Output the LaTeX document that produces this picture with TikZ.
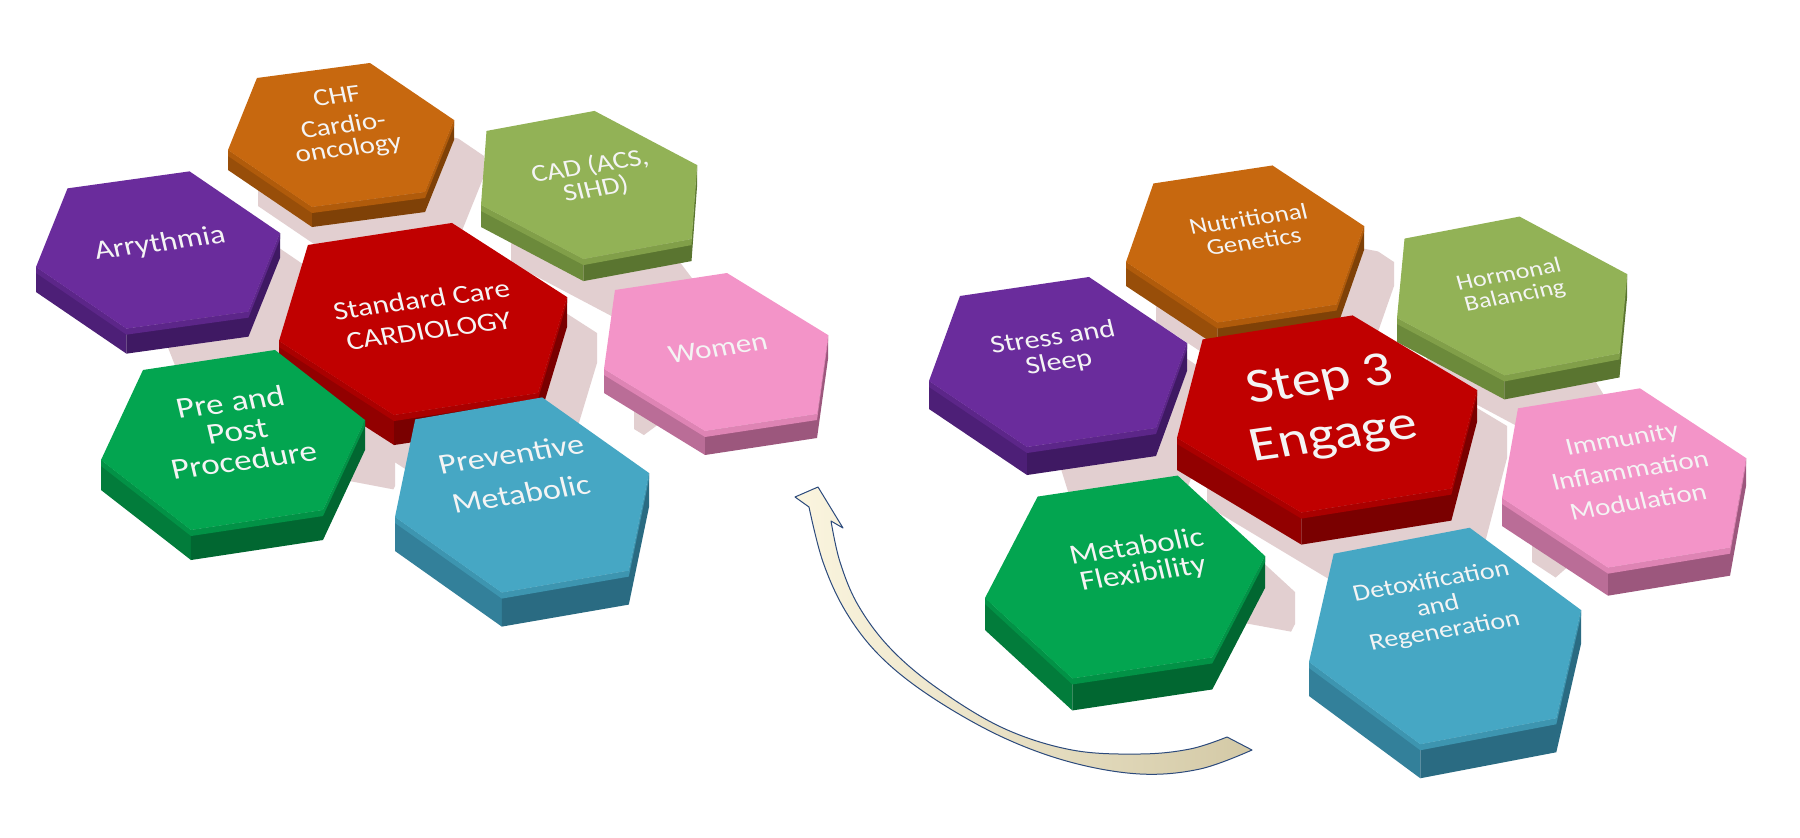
\documentclass[tikz,border=0pt]{standalone}
\usepackage{fontspec}
\setmainfont{Carlito}
\usetikzlibrary{calc}
\definecolor{purT}{HTML}{6A2C9C}\definecolor{purB}{HTML}{5C2689}\definecolor{purS}{HTML}{4D1F77}\definecolor{purD}{HTML}{3F1963}
\definecolor{oraT}{HTML}{C7680F}\definecolor{oraB}{HTML}{B05B0B}\definecolor{oraS}{HTML}{984E09}\definecolor{oraD}{HTML}{7F4107}
\definecolor{oliT}{HTML}{92B256}\definecolor{oliB}{HTML}{819F49}\definecolor{oliS}{HTML}{6C8A3B}\definecolor{oliD}{HTML}{5A7530}
\definecolor{redT}{HTML}{C00000}\definecolor{redB}{HTML}{AA0000}\definecolor{redS}{HTML}{920000}\definecolor{redD}{HTML}{7A0000}
\definecolor{pnkT}{HTML}{F394C8}\definecolor{pnkB}{HTML}{DE84B4}\definecolor{pnkS}{HTML}{BA6D97}\definecolor{pnkD}{HTML}{9C577D}
\definecolor{grnT}{HTML}{03A550}\definecolor{grnB}{HTML}{029246}\definecolor{grnS}{HTML}{027C3B}\definecolor{grnD}{HTML}{016731}
\definecolor{bluT}{HTML}{46A7C4}\definecolor{bluB}{HTML}{3D95B0}\definecolor{bluS}{HTML}{33809A}\definecolor{bluD}{HTML}{2A6B82}
\definecolor{shd}{RGB}{226,207,208}
\definecolor{txtc}{HTML}{F4F4F4}
\definecolor{arrL}{HTML}{FBF5DF}\definecolor{arrR}{HTML}{D3C9A6}\definecolor{arrE}{HTML}{2C4A7C}
\newcommand\hexdef[4]{%
 \coordinate (#1c) at (#2);
 \coordinate (#1v0) at ($(#2)+(#3)$);
 \coordinate (#1v1) at ($(#2)+0.5*(#3)+0.866*(#4)$);
 \coordinate (#1v2) at ($(#2)-0.5*(#3)+0.866*(#4)$);
 \coordinate (#1v3) at ($(#2)-1*(#3)$);
 \coordinate (#1v4) at ($(#2)-0.5*(#3)-0.866*(#4)$);
 \coordinate (#1v5) at ($(#2)+0.5*(#3)-0.866*(#4)$);}
\newcommand\hexshadow[3]{%
 \fill[shd] ($(#1v0)+(#3)$) -- ($(#1v1)+(#3)$) -- ($(#1v2)+(#3)$) -- ($(#1v3)+(#3)$) -- ($(#1v3)+(#3)+(0,#2)$) -- ($(#1v4)+(#3)+(0,#2)$) -- ($(#1v5)+(#3)+(0,#2)$) -- ($(#1v0)+(#3)+(0,#2)$) -- cycle;}
\newcommand\hexdraw[3]{%
 \fill[#3S] (#1v3) -- ($(#1v3)+(0,#2)$) -- ($(#1v4)+(0,#2)$) -- (#1v4) -- cycle;
 \fill[#3D] (#1v4) -- ($(#1v4)+(0,#2)$) -- ($(#1v5)+(0,#2)$) -- ($(#1v0)+(0,#2)$) -- (#1v0) -- (#1v5) -- cycle;
 \fill[#3B] (#1v3) -- (#1v4) -- (#1v5) -- (#1v0) -- ($(#1v0)+(0,6)$) -- ($(#1v5)+(0,6)$) -- ($(#1v4)+(0,6)$) -- ($(#1v3)+(0,6)$) -- cycle;
 \fill[#3T] (#1v0) -- (#1v1) -- (#1v2) -- (#1v3) -- (#1v4) -- (#1v5) -- cycle;}
\newcommand\htext[6]{%
 \node[rotate=#5, txt, font=\fontsize{#3}{#4}\selectfont] (#1) at (#2) {#6};}
\tikzset{
 txt/.style={text=txtc, align=center, inner sep=0pt, xslant=-0.1, yscale=0.85},
 arrowband/.style={draw=arrE, line width=1pt, line join=round, left color=arrL, right color=arrR}
}
\begin{document}
\begin{tikzpicture}[x=1pt,y=-1pt]
\useasboundingbox (0,0) rectangle (1800,838);
\fill[white] (0,0) rectangle (1800,838);
% ---- geometry: left group
\hexdef{arr}{158,250}{122,-17}{-34,-81}
\hexdef{chf}{341,135}{113,-15}{-31.8,-74.5}
\hexdef{cad}{589,185}{108,-20}{-56,-74}
\hexdef{red}{423,319}{144,-22}{-49.7,-98.2}
\hexdef{wom}{716,352}{112,-17}{-52,-81.4}
\hexdef{pre}{233,440}{132,-20}{-27.7,-92.4}
\hexdef{prv}{522,495}{127,-22}{-50,-100}
% ---- geometry: right group
\hexdef{str}{1058,362}{129,-19}{-38.7,-87.2}
\hexdef{nut}{1245,244}{119,-18}{-37,-80.3}
\hexdef{hor}{1512,296}{115,-22}{-57.7,-79}
\hexdef{stp}{1327,414}{150,-24}{-57,-100}
\hexdef{imm}{1624,478}{122,-20}{-52,-92}
\hexdef{met}{1125,577}{140,-21}{-20,-105}
\hexdef{det}{1445,636}{136,-26}{-50,-110}
% ---- shadows, seen only in the gaps of each cluster
\begin{scope}
\clip ($(redc)!1.12!(arrc)$) -- ($(redc)!1.12!(chfc)$) -- ($(redc)!1.12!(cadc)$) -- ($(redc)!1.12!(womc)$) -- ($(redc)!1.12!(prvc)$) -- ($(redc)!1.12!(prec)$) -- cycle;
\hexshadow{arr}{25}{30,36}
\hexshadow{chf}{20}{30,36}
\hexshadow{cad}{22}{30,36}
\hexshadow{red}{30}{30,36}
\hexshadow{pre}{30}{30,36}
\hexshadow{wom}{24}{30,36}
\end{scope}
\begin{scope}
\clip ($(stpc)!1.12!(strc)$) -- ($(stpc)!1.12!(nutc)$) -- ($(stpc)!1.12!(horc)$) -- ($(stpc)!1.12!(immc)$) -- ($(stpc)!1.12!(detc)$) -- ($(stpc)!1.12!(metc)$) -- cycle;
\hexshadow{str}{28}{30,36}
\hexshadow{nut}{24}{30,36}
\hexshadow{hor}{24}{30,36}
\hexshadow{stp}{32}{30,36}
\hexshadow{met}{32}{30,36}
\hexshadow{imm}{28}{30,36}
\end{scope}
% ---- blocks, back to front
\hexdraw{chf}{20}{ora}
\hexdraw{cad}{22}{oli}
\hexdraw{arr}{25}{pur}
\hexdraw{red}{30}{red}
\hexdraw{wom}{24}{pnk}
\hexdraw{pre}{30}{grn}
\hexdraw{prv}{34}{blu}
\hexdraw{nut}{24}{ora}
\hexdraw{hor}{24}{oli}
\hexdraw{str}{28}{pur}
\hexdraw{stp}{32}{red}
\hexdraw{imm}{28}{pnk}
\hexdraw{met}{32}{grn}
\hexdraw{det}{34}{blu}
% ---- labels
\htext{tarr}{160,244}{32}{36}{7.5}{Arrythmia}
\htext{tchf}{343,124}{29}{27}{7}{CHF\\[8pt]Cardio-\\oncology}
\htext{tcad}{593,178}{29}{28}{9}{CAD (ACS,\\SIHD)}
\htext{tred}{425,315}{31}{37}{7.5}{Standard Care\\CARDIOLOGY}
\htext{twom}{718,348}{31}{36}{8}{Women}
\htext{tpre}{237,431}{35}{35}{7.5}{Pre and\\Post\\Procedure}
\htext{tprv}{516,474}{34}{48}{8.5}{Preventive\\Metabolic}
\htext{tstr}{1056,351}{30}{30}{8}{Stress and\\Sleep}
\htext{tnut}{1251,230}{27}{27}{8}{Nutritional\\Genetics}
\htext{thor}{1512,286}{26}{26}{10}{Hormonal\\Balancing}
\htext{tstp}{1327,410}{58}{67}{8}{Step 3\\Engage}
\htext{timm}{1630,470}{29}{38}{9}{Immunity\\Inflammation\\Modulation}
\htext{tmet}{1140,561}{33}{32}{8}{Metabolic\\Flexibility}
\htext{tdet}{1438,607}{28}{30}{9.5}{Detoxification\\and\\Regeneration}
% ---- curved arrow
\coordinate (atip) at (818,487);
\coordinate (abl) at (795,497);
\coordinate (abr) at (843,528);
\path[arrowband] (abl) -- (atip) -- (abr) --
 plot[smooth, tension=0.6] coordinates {(831,521) (840,562) (858,605) (890,648) (937,688) (1003,728) (1072,750) (1140,754) (1190,749) (1227,737)}
 -- plot[smooth, tension=0.6] coordinates {(1252,750) (1200,769) (1140,774) (1070,762) (1000,736) (930,696) (880,656) (846,612) (823,562) (809,507)}
 -- cycle;
\end{tikzpicture}
\end{document}
